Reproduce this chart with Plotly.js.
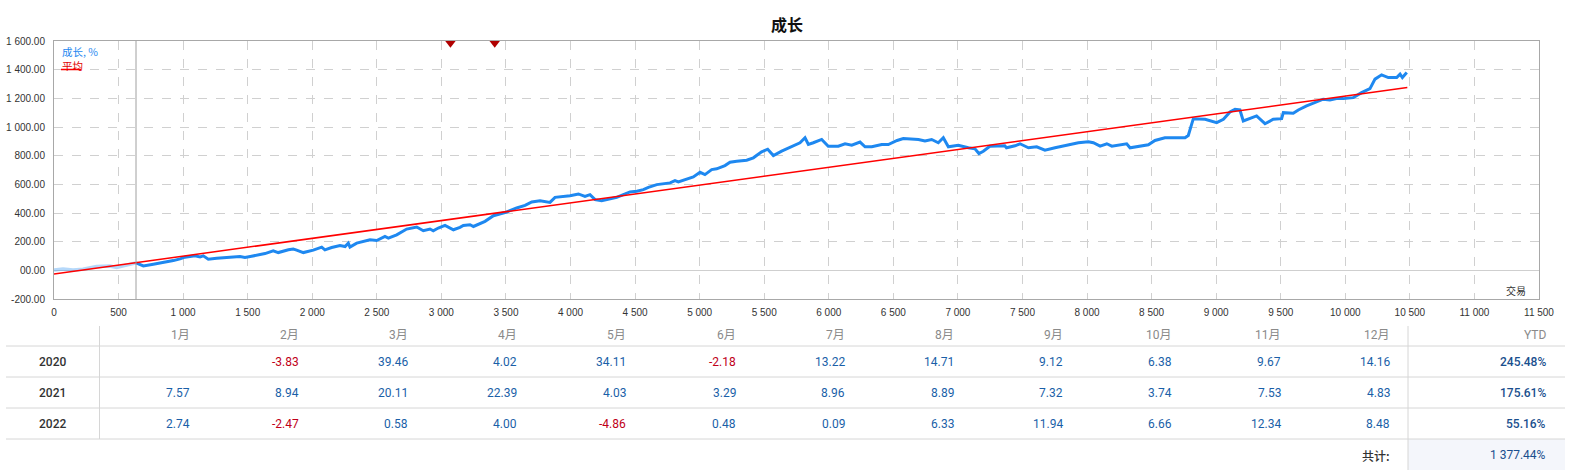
<!DOCTYPE html>
<html>
<head>
<meta charset="utf-8">
<script src="https://cdn.plot.ly/plotly-3.0.1.min.js"></script>
<style>html,body{margin:0;padding:0;background:#fff;}#chart{width:1574px;height:475px;}</style>
</head>
<body>
<div id="chart"></div>
<script>
// ---- data ----
const earlyX = [0,70,147,224,330,433,485,562,635];
const earlyY = [3,10,3,8,26,30,20,37,52];
const growthX = [635,692,769,847,924,976,1014,1092,1131,1156,
1195,1260,1363,1440,1479,1518,1595,1634,1698,1737,
1815,1853,1879,1931,2008,2073,2098,2150,2215,2254,
2279,2292,2344,2447,2499,2563,2589,2654,2731,2809,
2860,2912,2937,2976,3028,3093,3144,3170,3222,3248,
3338,3403,3506,3583,3648,3700,3764,3816,3841,3880,
3957,3996,4061,4112,4151,4190,4241,4306,4358,4409,
4461,4513,4564,4603,4668,4771,4809,4835,4900,4951,
5003,5041,5093,5132,5196,5235,5287,5364,5416,5480,
5527,5571,5635,5726,5777,5816,5842,5880,5945,5996,
6074,6126,6178,6242,6281,6333,6410,6461,6529,6577,
6694,6745,6797,6848,6887,6926,7003,7081,7132,7163,
7197,7247,7363,7376,7442,7481,7546,7610,7674,7752,
7829,7933,8010,8049,8101,8153,8192,8255,8307,8333,
8398,8475,8526,8603,8668,8759,8784,8823,8914,9004,
9056,9107,9146,9184,9210,9262,9313,9378,9442,9507,
9520,9597,9636,9700,9752,9829,9881,9932,9984,10062,
10126,10191,10230,10281,10333,10398,10424,10442,10476];
const growthY = [52,31,43,54,68,80,92,101,94,101,
78,85,92,96,89,96,108,117,136,124,
143,148,141,124,141,162,143,159,173,166,
190,162,190,213,208,236,225,248,288,302,
276,288,276,295,313,283,300,313,318,306,
342,381,407,435,453,477,486,481,474,509,
516,521,533,516,528,493,486,500,509,528,
547,552,563,579,598,610,626,617,638,652,
684,668,703,708,731,754,761,768,785,827,
845,801,831,871,890,925,878,890,913,866,
866,883,873,895,862,862,878,878,906,920,
913,902,913,890,925,862,873,855,848,815,
831,866,869,855,869,883,855,862,838,855,
869,890,897,890,866,883,866,876,883,855,
866,876,906,925,925,925,941,1058,1054,1030,
1054,1105,1124,1119,1042,1058,1077,1023,1054,1058,
1100,1096,1119,1147,1166,1194,1189,1198,1198,1205,
1240,1268,1334,1364,1345,1345,1369,1345,1380];
const avgX = [0,10480];
const avgY = [-25,1275];
const markerX = [3070,3413];
const markerY = [1585,1585];
const startLineX = 635;

const xTickVals = [0,500,1000,1500,2000,2500,3000,3500,4000,4500,5000,5500,6000,6500,7000,7500,8000,8500,9000,9500,10000,10500,11000,11500];
const xTickText = ["0","500","1 000","1 500","2 000","2 500","3 000","3 500","4 000","4 500","5 000","5 500","6 000","6 500","7 000","7 500","8 000","8 500","9 000","9 500","10 000","10 500","11 000","11 500"];
const yTickVals = [-200,0,200,400,600,800,1000,1200,1400,1600];
const yTickText = ["-200.00","00.00","200.00","400.00","600.00","800.00","1 000.00","1 200.00","1 400.00","1 600.00"];

const months = ["1月","2月","3月","4月","5月","6月","7月","8月","9月","10月","11月","12月"];
const years = ["2020","2021","2022"];
const row2020 = ["", "-3.83","39.46","4.02","34.11","-2.18","13.22","14.71","9.12","6.38","9.67","14.16"];
const row2021 = ["7.57","8.94","20.11","22.39","4.03","3.29","8.96","8.89","7.32","3.74","7.53","4.83"];
const row2022 = ["2.74","-2.47","0.58","4.00","-4.86","0.48","0.09","6.33","11.94","6.66","12.34","8.48"];
const ytd = ["245.48%","175.61%","55.16%"];
const totalLabel = "共计:";
const totalValue = "1 377.44%";

// ---- geometry helpers (pixel -> paper) ----
const W = 1574, H = 475, ML = 54, MR = 35, MT = 41, MB = 176;
const PW = W - ML - MR, PH = H - MT - MB;
const px = x => (x - ML) / PW;
const py = y => (H - MB - y) / PH;

const traces = [
  {x: earlyX, y: earlyY, mode: 'lines', line: {color: 'rgba(30,136,240,0.33)', width: 3.5}, hoverinfo: 'skip'},
  {x: growthX, y: growthY, mode: 'lines', line: {color: '#1e88f0', width: 3}, name: '成长, %'},
  {x: avgX, y: avgY, mode: 'lines', line: {color: '#ff0000', width: 1.5}, name: '平均'},
  {x: markerX, y: markerY, mode: 'markers', marker: {symbol: 'triangle-down', size: 9, color: '#b00000'}, cliponaxis: false, hoverinfo: 'skip'}
];

const annotations = [];
const shapes = [];
const tableFont = 'Roboto, "Noto Sans CJK SC", sans-serif';
const cjk = '"Noto Sans CJK SC", sans-serif';

// legend inside plot
annotations.push({xref:'paper', yref:'paper', x: px(60), y: py(52), xanchor:'left', yanchor:'middle', showarrow:false,
  text:'成长, %', font:{size:10.5, color:'#1e88f0', family: cjk}});
annotations.push({xref:'paper', yref:'paper', x: px(60), y: py(66), xanchor:'left', yanchor:'middle', showarrow:false,
  text:'平均', font:{size:10.5, color:'#e00000', family: cjk}});
shapes.push({type:'line', xref:'paper', yref:'paper', x0: px(61), x1: px(81), y0: py(69.5), y1: py(69.5), line:{color:'#ff0000', width:1.5}});
annotations.push({xref:'paper', yref:'paper', x: px(1528), y: py(290), xanchor:'right', yanchor:'middle', showarrow:false,
  text:'交易', font:{size:10, color:'#333', family: cjk}});

// vertical start line
shapes.push({type:'line', xref:'x', yref:'paper', x0: startLineX, x1: startLineX, y0: 0, y1: 1, line:{color:'#a0a0a0', width:1}});

// ---- table ----
const colRight = [];
for (let i = 0; i < 12; i++) colRight.push(192 + i * 109.1);
const ytdRight = 1548;
const headerY = 335, rowY = [362, 392.5, 423.5], totalY = 455;
const hLines = [346, 377, 408, 439];

shapes.push({type:'rect', xref:'paper', yref:'paper', x0: px(1408), x1: px(1565), y0: py(439), y1: py(470), fillcolor:'#f4f6fb', line:{width:0}, layer:'below'});
hLines.forEach(y => shapes.push({type:'line', xref:'paper', yref:'paper', x0: px(6), x1: px(1565), y0: py(y), y1: py(y), line:{color:'#d6d6d6', width:1}}));
shapes.push({type:'line', xref:'paper', yref:'paper', x0: px(99.5), x1: px(99.5), y0: py(326), y1: py(439), line:{color:'#d6d6d6', width:1}});
shapes.push({type:'line', xref:'paper', yref:'paper', x0: px(1408), x1: px(1408), y0: py(326), y1: py(470), line:{color:'#d6d6d6', width:1}});

months.forEach((m, i) => annotations.push({xref:'paper', yref:'paper', x: px(colRight[i]), y: py(headerY), xanchor:'right', yanchor:'middle', showarrow:false,
  text: m, font:{size:12, color:'#8a8a8a', family: tableFont}}));
annotations.push({xref:'paper', yref:'paper', x: px(ytdRight), y: py(headerY), xanchor:'right', yanchor:'middle', showarrow:false,
  text:'YTD', font:{size:12, color:'#8a8a8a', family: tableFont}});

const rows = [row2020, row2021, row2022];
rows.forEach((row, r) => {
  annotations.push({xref:'paper', yref:'paper', x: px(52), y: py(rowY[r]), xanchor:'center', yanchor:'middle', showarrow:false,
    text: years[r], font:{size:12, color:'#333', family: tableFont, weight: 500}});
  row.forEach((v, i) => {
    if (v === '') return;
    const neg = v.startsWith('-');
    annotations.push({xref:'paper', yref:'paper', x: px(colRight[i]), y: py(rowY[r]), xanchor:'right', yanchor:'middle', showarrow:false,
      text: v, font:{size:12, color: neg ? '#c00018' : '#1a5fa8', family: tableFont}});
  });
  annotations.push({xref:'paper', yref:'paper', x: px(ytdRight), y: py(rowY[r]), xanchor:'right', yanchor:'middle', showarrow:false,
    text: ytd[r], font:{size:12, color:'#1a4f8e', family: tableFont, weight: 500}});
});
annotations.push({xref:'paper', yref:'paper', x: px(colRight[11]), y: py(totalY), xanchor:'right', yanchor:'middle', showarrow:false,
  text: totalLabel, font:{size:12, color:'#333', family: cjk, weight: 500}});
annotations.push({xref:'paper', yref:'paper', x: px(ytdRight), y: py(totalY), xanchor:'right', yanchor:'middle', showarrow:false,
  text: totalValue, font:{size:12, color:'#1a4f8e', family: tableFont}});

const layout = {
  width: W, height: H,
  margin: {l: ML, r: MR, t: MT, b: MB, pad: 0},
  paper_bgcolor: '#ffffff', plot_bgcolor: '#ffffff',
  showlegend: false,
  title: {text: '<b>成长</b>', x: 0.5, xref: 'container', y: 1 - 25/H, yref: 'container', yanchor: 'middle',
    font: {size: 16, color: '#111', family: cjk}},
  xaxis: {range: [0, 11500], tickvals: xTickVals, ticktext: xTickText, showgrid: true, gridcolor: '#d0d0d0', griddash: 'dash', gridwidth: 1,
    showline: true, linecolor: '#a8a8a8', mirror: true, zeroline: false, ticks: '', ticklabelstandoff: 4,
    tickfont: {size: 10, color: '#333', family: '"Liberation Sans", sans-serif'}, fixedrange: true},
  yaxis: {range: [-200, 1600], tickvals: yTickVals, ticktext: yTickText, showgrid: true, gridcolor: '#d0d0d0', griddash: 'dash', gridwidth: 1,
    showline: true, linecolor: '#a8a8a8', mirror: true, zeroline: true, zerolinecolor: '#cfcfcf', zerolinewidth: 1, ticks: '', ticklabelstandoff: 6,
    tickfont: {size: 10, color: '#333', family: '"Liberation Sans", sans-serif'}, fixedrange: true},
  annotations: annotations,
  shapes: shapes
};

Plotly.newPlot('chart', traces, layout, {displayModeBar: false, staticPlot: true});
</script>
</body>
</html>
